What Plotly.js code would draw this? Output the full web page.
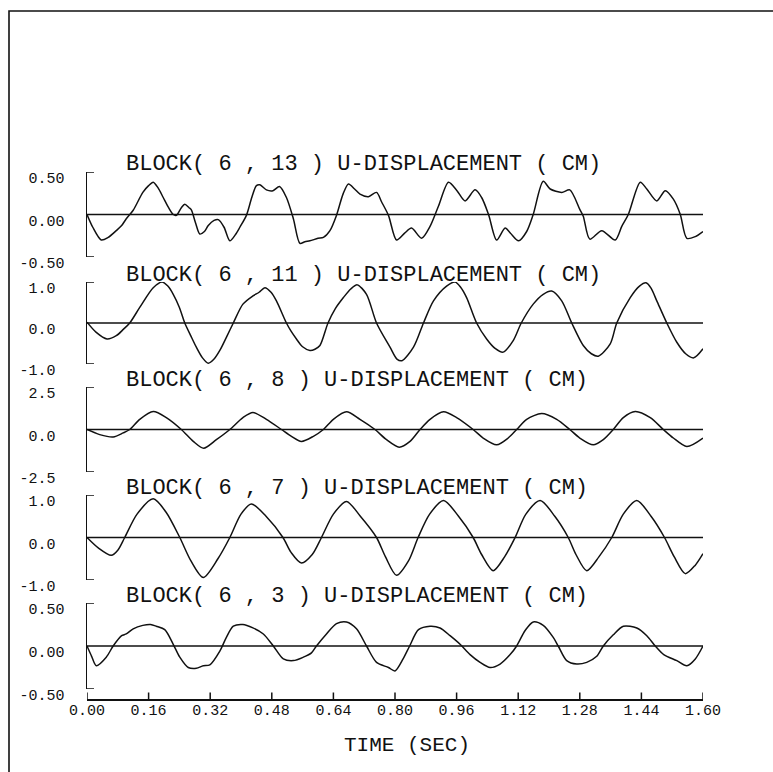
<!DOCTYPE html>
<html><head><meta charset="utf-8">
<script src="https://cdn.plot.ly/plotly-3.0.1.min.js"></script>
<style>html,body{margin:0;padding:0;background:#fff}</style>
</head><body>
<div id="chart" style="width:773px;height:772px"></div>
<script>
// ---------- data ----------
const panelTitles = [
  "BLOCK( 6 , 13 ) U-DISPLACEMENT ( CM)",
  "BLOCK( 6 , 11 ) U-DISPLACEMENT ( CM)",
  "BLOCK( 6 , 8 ) U-DISPLACEMENT ( CM)",
  "BLOCK( 6 , 7 ) U-DISPLACEMENT ( CM)",
  "BLOCK( 6 , 3 ) U-DISPLACEMENT ( CM)"
];
const xTitle = "TIME (SEC)";
const yLimits = [0.5, 1.0, 2.5, 1.0, 0.5];
const yTickText = [
  ["-0.50", "0.00", "0.50"],
  ["-1.0", "0.0", "1.0"],
  ["-2.5", "0.0", "2.5"],
  ["-1.0", "0.0", "1.0"],
  ["-0.50", "0.00", "0.50"]
];
const xTickVals = [0, 0.16, 0.32, 0.48, 0.64, 0.80, 0.96, 1.12, 1.28, 1.44, 1.60];
const xTickText = ["0.00", "0.16", "0.32", "0.48", "0.64", "0.80", "0.96", "1.12", "1.28", "1.44", "1.60"];

// BLOCK(6,13)
const t13 = [0.000,0.015,0.037,0.055,0.076,0.090,0.102,0.120,0.145,0.160,0.172,0.185,0.198,0.212,0.224,0.232,0.245,0.254,0.265,0.271,0.282,0.293,0.305,0.315,0.330,0.341,0.356,0.371,0.385,0.397,0.414,0.428,0.440,0.449,0.466,0.483,0.500,0.518,0.536,0.553,0.566,0.579,0.600,0.614,0.631,0.648,0.665,0.679,0.695,0.709,0.731,0.752,0.765,0.783,0.804,0.825,0.843,0.869,0.891,0.913,0.939,0.961,0.982,1.008,1.025,1.043,1.064,1.086,1.100,1.121,1.142,1.159,1.185,1.203,1.233,1.254,1.280,1.289,1.306,1.337,1.372,1.389,1.406,1.437,1.454,1.480,1.502,1.523,1.541,1.558,1.580,1.600];
const u13 = [0.00,-0.15,-0.30,-0.27,-0.19,-0.13,-0.05,0.05,0.26,0.34,0.38,0.31,0.20,0.08,0.00,-0.01,0.08,0.12,0.08,0.055,-0.10,-0.23,-0.20,-0.13,-0.07,-0.06,-0.15,-0.31,-0.24,-0.15,-0.01,0.20,0.34,0.35,0.29,0.28,0.33,0.20,-0.05,-0.34,-0.32,-0.31,-0.28,-0.27,-0.19,-0.01,0.24,0.36,0.30,0.24,0.21,0.26,0.15,-0.01,-0.30,-0.22,-0.16,-0.28,-0.14,0.10,0.38,0.28,0.16,0.29,0.20,0.00,-0.30,-0.16,-0.22,-0.31,-0.20,0.00,0.39,0.30,0.26,0.29,0.06,-0.02,-0.29,-0.19,-0.30,-0.14,0.00,0.38,0.30,0.16,0.28,0.18,0.00,-0.28,-0.26,-0.20];

// BLOCK(6,11)
const t11 = [0.000,0.024,0.052,0.076,0.095,0.111,0.137,0.172,0.195,0.210,0.224,0.240,0.254,0.270,0.284,0.300,0.315,0.330,0.345,0.362,0.380,0.405,0.431,0.447,0.462,0.478,0.492,0.518,0.530,0.544,0.560,0.579,0.592,0.605,0.626,0.645,0.666,0.685,0.702,0.726,0.752,0.787,0.805,0.818,0.848,0.874,0.900,0.934,0.956,0.970,0.986,1.012,1.038,1.060,1.081,1.107,1.128,1.159,1.185,1.207,1.233,1.259,1.289,1.310,1.328,1.359,1.376,1.411,1.435,1.452,1.465,1.480,1.506,1.532,1.555,1.576,1.600];
const u11 = [0.02,-0.23,-0.39,-0.31,-0.15,0.00,0.38,0.86,1.00,0.90,0.70,0.38,0.00,-0.32,-0.59,-0.85,-0.98,-0.88,-0.67,-0.35,0.00,0.46,0.66,0.75,0.86,0.75,0.54,0.00,-0.20,-0.39,-0.58,-0.67,-0.64,-0.55,0.00,0.35,0.62,0.83,0.93,0.70,0.00,-0.59,-0.88,-0.92,-0.59,0.00,0.54,0.90,1.00,0.88,0.62,0.00,-0.39,-0.62,-0.71,-0.43,0.00,0.46,0.70,0.78,0.54,0.00,-0.55,-0.75,-0.81,-0.51,0.00,0.62,0.90,0.98,0.85,0.54,0.00,-0.47,-0.75,-0.85,-0.63];

// BLOCK(6,8)
const t8 = [0.000,0.033,0.068,0.094,0.111,0.137,0.172,0.206,0.245,0.276,0.303,0.336,0.371,0.405,0.431,0.466,0.505,0.531,0.557,0.588,0.614,0.640,0.674,0.709,0.748,0.778,0.811,0.839,0.865,0.891,0.926,0.960,1.003,1.029,1.064,1.094,1.116,1.142,1.181,1.220,1.254,1.280,1.315,1.341,1.367,1.393,1.424,1.463,1.497,1.523,1.558,1.600];
const u8 = [0.00,-0.30,-0.44,-0.20,0.00,0.60,1.06,0.70,0.00,-0.70,-1.10,-0.60,0.00,0.70,1.00,0.60,0.00,-0.40,-0.70,-0.40,0.00,0.60,1.04,0.60,0.00,-0.60,-1.04,-0.70,0.00,0.60,1.04,0.70,0.00,-0.50,-0.90,-0.50,0.00,0.60,0.94,0.60,0.00,-0.50,-0.90,-0.60,0.00,0.70,1.06,0.70,0.00,-0.50,-1.00,-0.50];

// BLOCK(6,7)
const t7 = [0.000,0.030,0.063,0.080,0.098,0.130,0.172,0.205,0.241,0.270,0.302,0.340,0.371,0.400,0.427,0.465,0.509,0.530,0.557,0.585,0.609,0.640,0.674,0.710,0.752,0.775,0.804,0.835,0.860,0.890,0.926,0.965,1.003,1.025,1.055,1.085,1.112,1.140,1.177,1.215,1.250,1.270,1.298,1.330,1.363,1.393,1.428,1.465,1.500,1.525,1.554,1.580,1.600];
const u7 = [0.00,-0.25,-0.42,-0.30,0.00,0.55,0.91,0.60,0.00,-0.55,-0.94,-0.50,0.00,0.55,0.79,0.50,0.00,-0.35,-0.60,-0.40,0.00,0.55,0.85,0.50,0.00,-0.45,-0.89,-0.55,0.00,0.55,0.87,0.50,0.00,-0.40,-0.78,-0.45,0.00,0.55,0.87,0.50,0.00,-0.40,-0.78,-0.45,0.00,0.55,0.87,0.50,0.00,-0.45,-0.85,-0.65,-0.38];

// BLOCK(6,3)
const t3 = [0.000,0.012,0.024,0.050,0.068,0.090,0.102,0.120,0.145,0.165,0.180,0.202,0.224,0.241,0.263,0.284,0.302,0.319,0.345,0.362,0.380,0.405,0.431,0.458,0.484,0.510,0.536,0.562,0.583,0.596,0.622,0.648,0.674,0.700,0.726,0.752,0.783,0.800,0.821,0.838,0.861,0.891,0.917,0.943,0.969,0.995,1.021,1.047,1.073,1.099,1.116,1.138,1.159,1.185,1.211,1.224,1.246,1.272,1.298,1.324,1.341,1.367,1.393,1.428,1.454,1.476,1.498,1.532,1.558,1.580,1.600];
const u3 = [0.00,-0.12,-0.23,-0.13,0.00,0.12,0.14,0.20,0.24,0.25,0.23,0.19,0.02,-0.13,-0.25,-0.26,-0.23,-0.22,-0.06,0.10,0.23,0.25,0.21,0.14,0.00,-0.15,-0.17,-0.13,-0.08,0.00,0.14,0.26,0.28,0.20,0.00,-0.19,-0.25,-0.29,-0.15,0.00,0.19,0.23,0.21,0.12,0.02,-0.10,-0.19,-0.25,-0.21,-0.10,0.00,0.18,0.28,0.24,0.10,0.00,-0.17,-0.21,-0.19,-0.12,0.00,0.13,0.23,0.21,0.12,0.00,-0.10,-0.17,-0.23,-0.15,0.00];

const seriesT = [t13, t11, t8, t7, t3];
const seriesU = [u13, u11, u8, u7, u3];

// ---------- layout ----------
const FONT = "Liberation Mono, DejaVu Sans Mono, monospace";
const INK = "#111";
const W = 773, H = 772, ML = 87, MR = 70, MT = 100, MB = 73;
const plotH = H - MT - MB, plotW = W - ML - MR;
const py = p => (H - MB - p) / plotH;      // pixel y -> paper
const px = p => (p - ML) / plotW;          // pixel x -> paper
const panelPix = [[172, 257], [282, 364], [387, 472], [495, 580], [603, 689]];

const traces = [];
const layout = {
  width: W, height: H,
  margin: {l: ML, r: MR, t: MT, b: MB},
  paper_bgcolor: "#fff", plot_bgcolor: "rgba(0,0,0,0)",
  showlegend: false,
  font: {family: FONT, color: INK},
  xaxis: {
    range: [0, 1.6], anchor: "free", position: 0,
    showline: true, linecolor: INK, linewidth: 1.5,
    ticks: "", tickvals: xTickVals, ticktext: xTickText,
    tickfont: {family: FONT, size: 15, color: INK},
    ticklabelstandoff: -4,
    showgrid: false, zeroline: false
  },
  annotations: [{
    text: xTitle, xref: "paper", yref: "paper", x: px(407), y: py(745),
    xanchor: "center", yanchor: "middle", showarrow: false,
    font: {family: FONT, size: 21, color: INK}
  }],
  shapes: [{
    type: "rect", xref: "paper", yref: "paper", layer: "below",
    x0: px(9), x1: px(800), y0: py(800), y1: py(11),
    line: {color: INK, width: 1.6}
  }]
};

// x-axis tick marks (pointing up from the axis line)
xTickVals.forEach(v => {
  layout.shapes.push({
    type: "line", xref: "x", yref: "paper", x0: v, x1: v, y0: 0, y1: py(692.5),
    line: {color: INK, width: 1.5}
  });
});

for (let i = 0; i < 5; i++) {
  const yName = i === 0 ? "y" : "y" + (i + 1);
  const axKey = i === 0 ? "yaxis" : "yaxis" + (i + 1);
  const m = yLimits[i];
  traces.push({
    x: seriesT[i], y: seriesU[i], xaxis: "x", yaxis: yName,
    type: "scatter", mode: "lines",
    line: {color: INK, width: 1.5, shape: "spline", smoothing: 0.8},
    hoverinfo: "skip", cliponaxis: false
  });
  const twoDec = yTickText[i][0].length > 4;
  layout[axKey] = {
    domain: [py(panelPix[i][1]), py(panelPix[i][0])],
    range: [-m, m], anchor: "x",
    showline: true, linecolor: INK, linewidth: 1.5,
    ticks: "", tickvals: [-m, 0, m], ticktext: yTickText[i],
    tickfont: {family: FONT, size: 15, color: INK},
    ticklabelshift: 6,
    ticklabelstandoff: twoDec ? 18 : 27,
    showgrid: false, zeroline: false
  };
  // bracket end marks of the y axis
  [-m, m].forEach(v => {
    layout.shapes.push({
      type: "line", xref: "paper", yref: yName, x0: 0, x1: px(94), y0: v, y1: v,
      line: {color: INK, width: 1.5}
    });
  });
  // zero reference line across the panel
  layout.shapes.push({
    type: "line", xref: "paper", yref: yName, x0: 0, x1: 1, y0: 0, y1: 0,
    layer: "below", line: {color: INK, width: 1.4}
  });
  layout.annotations.push({
    text: panelTitles[i], xref: "paper", x: px(124), xanchor: "left",
    yref: yName + " domain", y: 1, yanchor: "middle", yshift: 7,
    showarrow: false, font: {family: FONT, size: 22, color: INK}
  });
}

Plotly.newPlot("chart", traces, layout, {staticPlot: true, displayModeBar: false});
</script>
</body></html>
